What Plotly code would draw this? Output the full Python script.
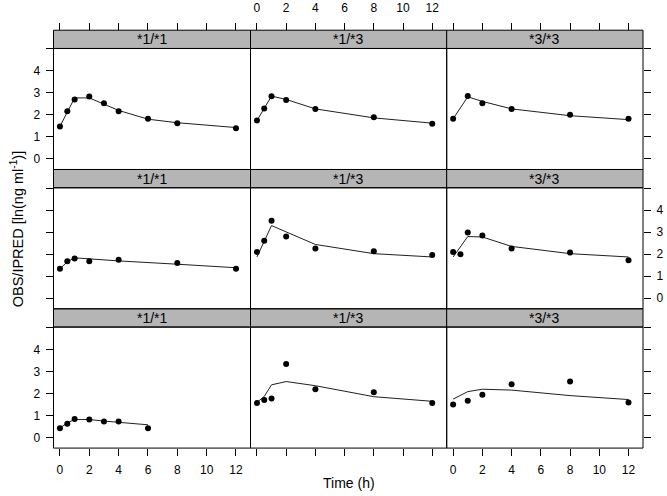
import plotly.graph_objects as go

# ---- data ----
genotypes = ["*1/*1", "*1/*3", "*3/*3"]
x_ticks = [0, 2, 4, 6, 8, 10, 12]
y_ticks = [0, 1, 2, 3, 4, 5]
y_tick_text = ["0", "1", "2", "3", "4", " "]

# row 1
t_r1c1 = [0, 0.5, 1, 2, 3, 4, 6, 8, 12]
obs_r1c1 = [1.47, 2.16, 2.70, 2.83, 2.53, 2.16, 1.82, 1.62, 1.39]
pred_r1c1 = [1.47, 2.15, 2.77, 2.77, 2.50, 2.20, 1.80, 1.64, 1.42]

t_r1c2 = [0, 0.5, 1, 2, 4, 8, 12]
obs_r1c2 = [1.74, 2.29, 2.85, 2.67, 2.27, 1.89, 1.59]
pred_r1c2 = [1.74, 2.29, 2.85, 2.70, 2.27, 1.86, 1.62]

t_r1c3 = [0, 1, 2, 4, 8, 12]
obs_r1c3 = [1.82, 2.86, 2.53, 2.27, 2.00, 1.82]
pred_r1c3 = [1.82, 2.82, 2.61, 2.27, 1.96, 1.78]

# row 2
t_r2c1 = [0, 0.5, 1, 2, 4, 8, 12]
obs_r2c1 = [1.33, 1.68, 1.80, 1.68, 1.74, 1.59, 1.33]
pred_r2c1 = [1.33, 1.65, 1.83, 1.78, 1.69, 1.54, 1.38]

t_r2c2 = [0, 0.5, 1, 2, 4, 8, 12]
obs_r2c2 = [2.10, 2.61, 3.52, 2.80, 2.26, 2.13, 1.96]
pred_r2c2 = [1.87, 2.55, 3.30, 3.01, 2.44, 2.02, 1.87]

t_r2c3 = [0, 0.5, 1, 2, 4, 8, 12]
obs_r2c3 = [2.10, 1.99, 2.98, 2.85, 2.26, 2.07, 1.72]
pred_r2c3 = [1.87, 2.32, 2.80, 2.78, 2.35, 2.02, 1.87]

# row 3
t_r3c1 = [0, 0.5, 1, 2, 3, 4, 6]
obs_r3c1 = [0.41, 0.62, 0.84, 0.81, 0.72, 0.72, 0.41]
pred_r3c1 = [0.42, 0.66, 0.81, 0.81, 0.74, 0.69, 0.57]

t_r3c2 = [0, 0.5, 1, 2, 4, 8, 12]
obs_r3c2 = [1.56, 1.70, 1.77, 3.34, 2.19, 2.05, 1.56]
pred_r3c2 = [1.59, 1.86, 2.39, 2.54, 2.35, 1.85, 1.64]

t_r3c3 = [0, 1, 2, 4, 8, 12]
obs_r3c3 = [1.50, 1.67, 1.94, 2.42, 2.54, 1.59]
pred_r3c3 = [1.74, 2.08, 2.19, 2.15, 1.90, 1.72]

panels = [
    [(t_r1c1, obs_r1c1, pred_r1c1), (t_r1c2, obs_r1c2, pred_r1c2), (t_r1c3, obs_r1c3, pred_r1c3)],
    [(t_r2c1, obs_r2c1, pred_r2c1), (t_r2c2, obs_r2c2, pred_r2c2), (t_r2c3, obs_r2c3, pred_r2c3)],
    [(t_r3c1, obs_r3c1, pred_r3c1), (t_r3c2, obs_r3c2, pred_r3c2), (t_r3c3, obs_r3c3, pred_r3c3)],
]

# ---- layout geometry (pixels) ----
W, H = 667, 496
col_px = [(53.5, 250.5), (250.5, 446.7), (446.7, 643.0)]
strip_top_px = [24.5, 165.5, 306.5]
panel_top_px = [43.0, 184.0, 325.0]
panel_bot_px = [165.5, 306.5, 447.5]
x_range = [-0.44, 12.99]
y_range = [-0.49, 5.02]

FONT = "Liberation Sans, Arial, Helvetica, sans-serif"
STRIP_FILL = "#b5b5b5"


def px_x(p):
    return p / W


def px_y(p):
    return 1 - p / H


fig = go.Figure()
layout = dict(
    width=W, height=H, autosize=False,
    margin=dict(l=0, r=0, t=0, b=0, pad=0),
    paper_bgcolor="white", plot_bgcolor="white",
    showlegend=False,
    font=dict(family=FONT, size=12, color="black"),
)
shapes = []
annotations = []

for r in range(3):
    for c in range(3):
        i = r * 3 + c + 1
        xs = "" if i == 1 else str(i)
        t, obs, pred = panels[r][c]
        fig.add_trace(go.Scatter(x=t, y=pred, mode="lines",
                                 line=dict(color="#202020", width=1),
                                 xaxis="x" + xs, yaxis="y" + xs, hoverinfo="skip"))
        fig.add_trace(go.Scatter(x=t, y=obs, mode="markers",
                                 marker=dict(color="black", size=6),
                                 xaxis="x" + xs, yaxis="y" + xs))

        xd = [px_x(col_px[c][0]), px_x(col_px[c][1])]
        yd = [px_y(panel_bot_px[r]), px_y(panel_top_px[r])]

        xa = dict(domain=xd, range=x_range, showgrid=False, zeroline=False,
                  showline=False, tickvals=x_ticks, ticks="", showticklabels=False,
                  tickfont=dict(family=FONT, size=12, color="black"),
                  ticklen=7, tickwidth=1, tickcolor="black")
        if r == 2:
            xa.update(anchor="y" + xs, side="bottom", ticks="outside",
                      showticklabels=(c != 1), ticklabelstandoff=4)
        elif r == 0:
            xa.update(anchor="free", position=px_y(strip_top_px[0]), side="top",
                      ticks="outside", showticklabels=(c == 1), ticklabelstandoff=6)
        else:
            xa.update(anchor="y" + xs)

        ya = dict(domain=yd, range=y_range, showgrid=False, zeroline=False,
                  showline=False, tickvals=y_ticks, ticktext=y_tick_text,
                  ticks="", showticklabels=False,
                  tickfont=dict(family=FONT, size=12, color="black"),
                  ticklen=7, tickwidth=1, tickcolor="black", anchor="x" + xs)
        if c == 0:
            ya.update(side="left", ticks="outside", showticklabels=(r != 1),
                      ticklabelstandoff=3)
        elif c == 2:
            ya.update(side="right", ticks="outside", showticklabels=(r == 1),
                      ticklabelstandoff=3)

        layout["xaxis" + xs] = xa
        layout["yaxis" + xs] = ya

        # panel frame
        shapes.append(dict(type="rect", xref="paper", yref="paper",
                           x0=xd[0], x1=xd[1], y0=yd[0], y1=yd[1],
                           line=dict(color="black", width=1), layer="above"))
        # strip
        sy0, sy1 = px_y(panel_top_px[r]), px_y(strip_top_px[r])
        shapes.append(dict(type="rect", xref="paper", yref="paper",
                           x0=xd[0], x1=xd[1], y0=sy0, y1=sy1,
                           fillcolor=STRIP_FILL,
                           line=dict(color="black", width=1), layer="below"))
        annotations.append(dict(text=genotypes[c], xref="paper", yref="paper",
                                x=(xd[0] + xd[1]) / 2, y=(sy0 + sy1) / 2,
                                showarrow=False, xanchor="center", yanchor="middle",
                                font=dict(family=FONT, size=14, color="black")))

annotations.append(dict(text="Time (h)", xref="paper", yref="paper",
                        x=px_x(349), y=px_y(483), showarrow=False,
                        xanchor="center", yanchor="middle",
                        font=dict(family=FONT, size=14, color="black")))
annotations.append(dict(text="OBS/IPRED [ln(ng ml<sup>-1</sup>)]", xref="paper", yref="paper",
                        x=px_x(17), y=px_y(226), showarrow=False, textangle=-90,
                        xanchor="center", yanchor="middle",
                        font=dict(family=FONT, size=14.5, color="black")))

layout["shapes"] = shapes
layout["annotations"] = annotations
fig.update_layout(**layout)
fig.write_html(
    "out.html",
    config={"displayModeBar": False},
    post_script="document.body.style.margin='0';document.body.style.padding='0';",
)
